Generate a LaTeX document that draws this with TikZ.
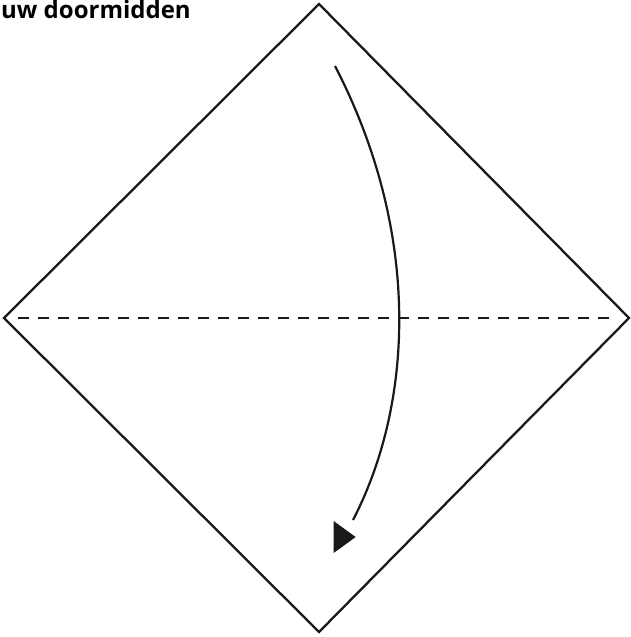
\documentclass[tikz,border=0pt]{standalone}
\usepackage{fontspec}
\setmainfont{Open Sans}
\usetikzlibrary{shapes.geometric,positioning}

\begin{document}
\begin{tikzpicture}[
  x=1pt, y=-1pt,
  edge/.style={line width=2.3pt, draw=black!90, line join=miter},
  foldline/.style={line width=2.3pt, draw=black!90, dash pattern=on 11pt off 9pt},
  movearrow/.style={line width=2.2pt, draw=black!90},
  tip/.style={isosceles triangle, isosceles triangle apex angle=72, fill=black!90,
              minimum height=22pt, inner sep=0pt, draw=none},
  title/.style={font=\bfseries\fontsize{24}{28}\selectfont, anchor=north west, inner sep=0pt},
]
\useasboundingbox (0,0) rectangle (631,637);

% corners of the square
\coordinate (top)    at (319,4);
\coordinate (left)   at (4,318);
\coordinate (right)  at (629,318);
\coordinate (bottom) at (319,632);
\coordinate (fold l) at (18,318);
\coordinate (fold r) at (616,318);

\node[title] (caption) at (1,0.5) {uw doormidden};

\draw[edge] (top) -- (right) -- (bottom) -- (left) -- cycle;
\draw[foldline] (fold l) -- (fold r);

% fold arrow
\coordinate (arc start) at (335,66);
\coordinate (arc end)   at (353,520);
\draw[movearrow] (arc start) .. controls (420,230) and (415,400) .. (arc end);
\node[tip, anchor=apex] (head) at (356,537) {};

\end{tikzpicture}
\end{document}
